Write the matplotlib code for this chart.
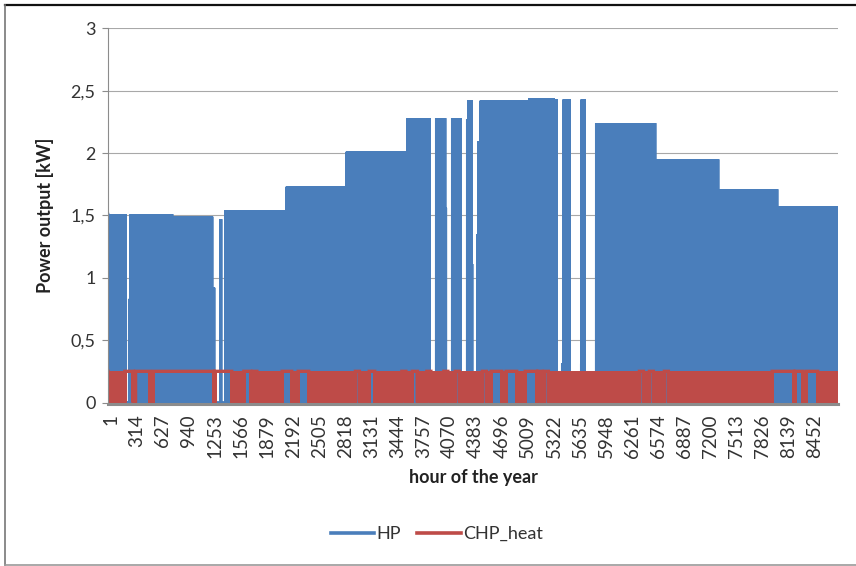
import numpy as np
import matplotlib
matplotlib.use("Agg")
import matplotlib.pyplot as plt
import matplotlib.transforms as mtransforms
from matplotlib.lines import Line2D

plt.rcParams["font.family"] = ["Lato", "DejaVu Sans"]
plt.rcParams["path.simplify"] = False

# HP operating periods: start hour, end hour, output level [kW]
hp_start = [1, 257, 276, 768, 1248, 1350, 1415, 2148, 2868, 3600, 3941, 4044,
            4133, 4313, 4326, 4362, 4439, 4446, 4476, 5022, 5058, 5346, 5376,
            5453, 5472, 5681, 5688, 5861, 6294, 6330, 6564, 7320, 8028]
hp_end = [208, 276, 768, 1248, 1273, 1356, 2148, 2868, 3600, 3859, 4044, 4054,
          4231, 4326, 4362, 4369, 4446, 4476, 5022, 5058, 5346, 5376, 5383,
          5472, 5539, 5688, 5719, 6294, 6330, 6564, 7320, 8028, 8761]
hp_level = [1.51, 0.83, 1.51, 1.49, 0.92, 1.47, 1.54, 1.73, 2.01, 2.28, 2.28, 1.56,
            2.28, 2.27, 2.42, 1.11, 1.35, 2.09, 2.42, 1.52, 2.44, 1.88, 2.43,
            0.31, 2.43, 0.31, 2.43, 2.24, 0.99, 2.24, 1.95, 1.71, 1.57]

# CHP heat: switches on/off hourly, except these periods of steady output
chp_level = 0.25
chp_steady_start = [203, 331, 543, 1283, 1631, 1740, 2091, 2283, 2970, 3135, 3528,
                    3654, 3828, 4032, 4170, 4494, 4599, 4779, 5007, 5160, 5238,
                    6378, 6498, 6678, 7971, 8247, 8379]
chp_steady_end = [303, 505, 1273, 1485, 1713, 1788, 2205, 2409, 3018, 3201, 3576,
                  3714, 3876, 4080, 4218, 4542, 4725, 4905, 5145, 5208, 5286,
                  6426, 6546, 6726, 8229, 8337, 8517]

hour_ticks = [1, 314, 627, 940, 1253, 1566, 1879, 2192, 2505, 2818, 3131, 3444,
              3757, 4070, 4383, 4696, 5009, 5322, 5635, 5948, 6261, 6574, 6887,
              7200, 7513, 7826, 8139, 8452]
y_ticks = [0, 0.5, 1, 1.5, 2, 2.5, 3]
y_labels = ["0", "0,5", "1", "1,5", "2", "2,5", "3"]

hours = np.arange(1, 8761)
on_hour = (hours % 2 == 1)

hp = np.zeros(len(hours))
for s, e, lev in zip(hp_start, hp_end, hp_level):
    m = (hours >= s) & (hours < e) & on_hour
    hp[m] = lev

chp = np.where(on_hour, chp_level, 0.0)
for s, e in zip(chp_steady_start, chp_steady_end):
    chp[(hours >= s) & (hours < e)] = chp_level

W, H = 856, 566
fig = plt.figure(figsize=(W / 100, H / 100), dpi=100)
ax = fig.add_axes([108 / W, 1 - 402.5 / H, 730 / W, 374.2 / H])

ax.plot(hours, hp, color="#4A7EBB", lw=2.0, label="HP", solid_joinstyle="miter")
ax.plot(hours, chp, color="#BE4B48", lw=2.4, label="CHP_heat", solid_joinstyle="miter")

ax.set_xlim(0.5, 8760.5)
ax.set_ylim(0, 3)
ax.set_yticks(y_ticks)
ax.set_yticklabels(y_labels)
ax.set_xticks(hour_ticks)
ax.set_xticklabels([str(t) for t in hour_ticks])
ax.grid(axis="y", color="#A8A8A8", lw=0.8)
ax.set_axisbelow(True)

for side in ["top", "right"]:
    ax.spines[side].set_visible(False)
ax.spines["left"].set_color("#8C8C8C")
ax.spines["left"].set_linewidth(0.8)
ax.spines["bottom"].set_color("#8C8C8C")
ax.spines["bottom"].set_linewidth(2.2)
ax.spines["bottom"].set_position(("outward", 1.4))
ax.spines["bottom"].set_zorder(5)

ax.tick_params(axis="y", length=4, color="#8C8C8C", labelsize=13, labelcolor="#333333", pad=5)
ax.tick_params(axis="x", length=0, labelsize=13.5, labelcolor="#333333", pad=7,
               labelrotation=90)
shift = mtransforms.ScaledTranslation(2.5 / 100, 0, fig.dpi_scale_trans)
for lbl in ax.get_xticklabels():
    lbl.set_transform(lbl.get_transform() + shift)

ax.set_ylabel("Power output [kW]", fontsize=13, fontweight="bold", color="#222222")
ax.yaxis.set_label_coords(-0.086, 0.5)
ax.yaxis.label.set_va("center")
ax.set_xlabel("hour of the year", fontsize=13, fontweight="bold", color="#222222")
ax.xaxis.set_label_coords(0.5, -0.201)
ax.xaxis.label.set_va("center")

fig.legend(loc="center", bbox_to_anchor=(437 / W, 1 - 534 / H), ncol=2, frameon=False,
           fontsize=13, handlelength=2.4, handletextpad=0.15, columnspacing=0.9,
           labelcolor="#333333")
for lh in fig.legends[0].get_lines():
    lh.set_linewidth(2.6)

# chart border
fig.add_artist(Line2D([5 / W, 1], [1 - 5 / H, 1 - 5 / H], transform=fig.transFigure,
                      color="#111111", lw=1.6))
fig.add_artist(Line2D([5 / W, 5 / W], [1 - 5 / H, 1 / H], transform=fig.transFigure,
                      color="#777777", lw=1.2))
fig.add_artist(Line2D([5 / W, 1], [1 / H, 1 / H], transform=fig.transFigure,
                      color="#999999", lw=1.2))

fig.savefig("out.png", dpi=100)
